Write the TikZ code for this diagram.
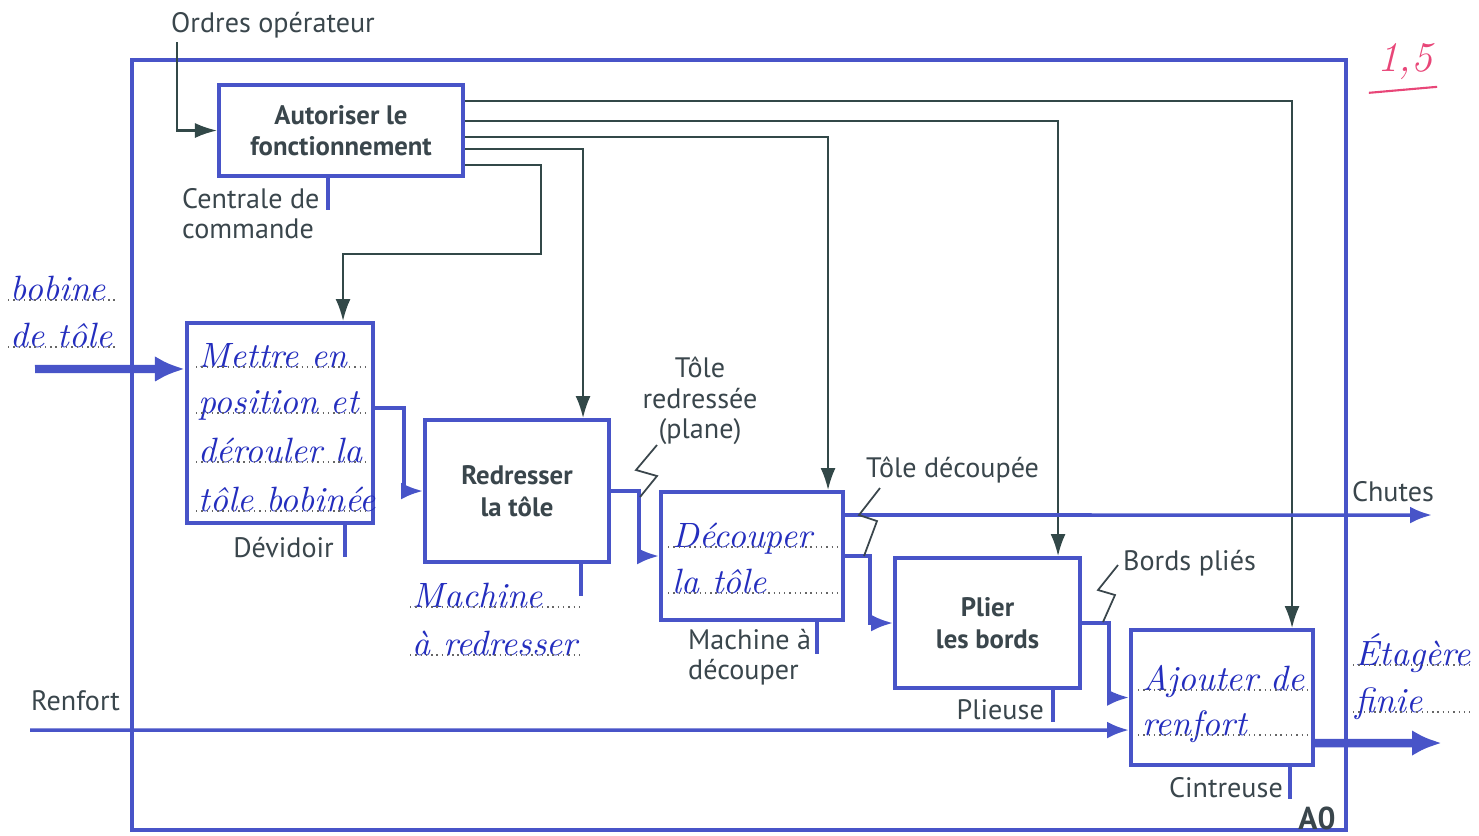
\documentclass[tikz,border=0pt]{standalone}
\usepackage{fontspec}
\setsansfont{PT Sans}
\usepackage{xcolor}
\usepackage{tikz}
\usetikzlibrary{arrows.meta}
\usetikzlibrary{positioning}
\definecolor{bleu}{RGB}{72,84,200}
\definecolor{ardoise}{RGB}{50,72,72}
\definecolor{texte}{RGB}{58,70,76}
\definecolor{encre}{RGB}{36,46,190}
\definecolor{rouge}{RGB}{232,70,120}
\tikzset{
  boite/.style 2 args={draw=bleu, line width=1.1pt, fill=white, minimum width=#1, minimum height=#2, align=center, inner sep=2pt, text=texte, font=\sffamily\bfseries\fontsize{7.6}{9}\selectfont},
  etiq/.style={text=texte, inner sep=1pt, align=left, font=\sffamily\fontsize{8}{8.6}\selectfont},
  manu/.style={anchor=base west, inner sep=0pt, text=encre, font=\itshape\fontsize{10}{12}\selectfont},
  pointille/.style={draw=black!60, line width=0.5pt, dash pattern=on 0.4pt off 1.1pt},
  controle/.style={draw=ardoise, line width=0.6pt, -{Latex[length=2.2mm,width=1.5mm]}},
  flux/.style={draw=bleu, line width=1pt, -{Latex[length=2.2mm,width=1.7mm]}},
  gros/.style={draw=bleu, line width=2.4pt, -{Latex[length=3mm,width=2.6mm]}},
  meca/.style={draw=bleu, line width=1pt},
  eclair/.style={draw=texte, line width=0.5pt},
}
\begin{document}
\begin{tikzpicture}[x=0.01cm, y=-0.01cm]
  \useasboundingbox (0,0) rectangle (1479,835);
  \draw[bleu, line width=1.1pt] (132,60) rectangle (1346,830);
  \node[etiq, font=\sffamily\bfseries\fontsize{9}{10}\selectfont] (a0) at (1317,818) {A0};

  \node[boite={2.44cm}{0.91cm}] (autoriser) at (341,130.5) {Autoriser le\\fonctionnement};
  \node[boite={1.86cm}{2cm}] (mettre) at (280,423) {};
  \node[boite={1.84cm}{1.42cm}] (redresser) at (517,491) {Redresser\\la tôle};
  \node[boite={1.82cm}{1.28cm}] (decouper) at (752,556) {};
  \node[boite={1.85cm}{1.30cm}] (plier) at (987.5,623) {Plier\\les bords};
  \node[boite={1.82cm}{1.35cm}] (ajouter) at (1222,697.5) {};

  \node[etiq] (ordres) at (273,25) {Ordres opérateur};
  \node[etiq, anchor=north west] (centrale) at (178,184) {Centrale de\\commande};
  \node[etiq, anchor=east] (devidoir) at (338,548) {Dévidoir};
  \node[etiq, anchor=west] (machdec) at (684,657) {Machine à\\découper};
  \node[etiq, anchor=east] (plieuse) at (1048,710) {Plieuse};
  \node[etiq, anchor=east] (cintreuse) at (1287,788) {Cintreuse};
  \node[etiq, align=center] (redressee) at (700,401) {Tôle\\redressée\\(plane)};
  \node[etiq, anchor=west] (decoupee) at (862,470) {Tôle découpée};
  \node[etiq, anchor=west] (plies) at (1119,563) {Bords pliés};
  \node[etiq] (chutes) at (1393,492) {Chutes};
  \node[etiq, anchor=west] (renfort) at (27,701) {Renfort};

  \draw[controle] ([xshift=0.1cm]ordres.south west) |- (autoriser.west);
  \draw[controle] ([yshift=0.295cm]autoriser.east) -| ([xshift=0.70cm]ajouter.north);
  \draw[controle] ([yshift=0.095cm]autoriser.east) -| ([xshift=0.705cm]plier.north);
  \draw[controle] ([yshift=-0.065cm]autoriser.east) -| ([xshift=0.76cm]decouper.north);
  \draw[controle] ([yshift=-0.185cm]autoriser.east) -| ([xshift=0.66cm]redresser.north);
  \draw[controle] ([yshift=-0.345cm]autoriser.east) -- ++(76,0) -- ++(0,89) -| ([xshift=0.63cm]mettre.north);

  \foreach \b/\dx in {autoriser/-0.13, mettre/0.65, redresser/0.64, decouper/0.65, plier/0.655, ajouter/0.68}
    \draw[meca] ([xshift=\dx cm]\b.south) -- ++(0,32);

  \coordinate (entree) at (35,369);
  \coordinate (finchutes) at (1432,515);
  \coordinate (debrenfort) at (30,730);
  \coordinate (sortie) at (1442,743);
  \draw[gros] (entree) -- ([yshift=0.54cm]mettre.west);
  \draw[flux] ([yshift=0.15cm]mettre.east) -- ++(29,0) |- (redresser.west);
  \draw[flux] (redresser.east) -- ++(28,0) |- (decouper.west);
  \draw[flux] ([yshift=0.41cm]decouper.east) -- (finchutes);
  \draw[flux] (decouper.east) -- ++(25,0) |- (plier.west);
  \draw[flux] (plier.east) -- ++(27,0) |- (ajouter.west);
  \draw[flux] (debrenfort) -- ([yshift=-0.325cm]ajouter.west);
  \draw[gros] ([yshift=-0.455cm]ajouter.east) -- (sortie);

  \draw[eclair] (657,445) -- (636,470) -- (657,476) -- (640,497);
  \draw[eclair] (880,488) -- (859,515) -- (877,521) -- (864,556);
  \draw[eclair] (1118,565) -- (1098,590) -- (1115,595) -- (1103,622);

  \foreach \t/\y [count=\i] in {bobine/300, de tôle/347}{
    \node[manu] (bobine\i) at (10,\y) {\t};
    \draw[pointille] (8,\y) -- (118,\y);
  }
  \foreach \t/\y [count=\i] in {Mettre en/367, position et/413, dérouler la/462, tôle bobinée/511}{
    \node[manu] (mettre\i) at (198,\y) {\t};
    \draw[pointille] (196,\y) -- (366,\y);
  }
  \foreach \t/\y [count=\i] in {Machine/607, à redresser/655}{
    \node[manu] (machred\i) at (412,\y) {\t};
    \draw[pointille] (410,\y) -- (580,\y);
  }
  \foreach \t/\y [count=\i] in {Découper/547, la tôle/593}{
    \node[manu] (decouper\i) at (672,\y) {\t};
    \draw[pointille] (668,\y) -- (838,\y);
  }
  \foreach \t/\y [count=\i] in {Ajouter de/690, renfort/735}{
    \node[manu] (ajouter\i) at (1142,\y) {\t};
    \draw[pointille] (1138,\y) -- (1308,\y);
  }
  \foreach \t/\y [count=\i] in {Étagère/665, finie/712}{
    \node[manu] (etagere\i) at (1355,\y) {\t};
    \draw[pointille] (1353,\y) -- (1470,\y);
  }

  \node[text=rouge, inner sep=0pt, font=\itshape\fontsize{12}{14}\selectfont] (note) at (1405,62) {1,5};
  \draw[rouge, line width=0.6pt] ([xshift=-0.08cm, yshift=-0.12cm]note.south west) -- ([xshift=0.04cm, yshift=-0.06cm]note.south east);
\end{tikzpicture}
\end{document}
